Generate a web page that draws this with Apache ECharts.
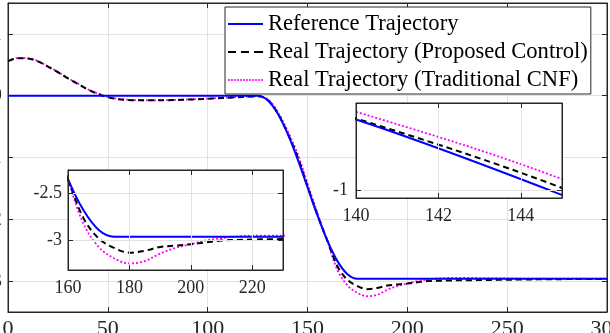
<!DOCTYPE html>
<html>
<head>
<meta charset="utf-8">
<script src="https://cdn.jsdelivr.net/npm/echarts@6/dist/echarts.min.js"></script>
<style>
html,body{margin:0;padding:0;background:#fff;}
#chart{width:610px;height:333px;}
</style>
</head>
<body>
<div id="chart"></div>
<script>
// sample times
var timeSteps = [0,5,10,15,20,25,30,35,40,45,50,55,60,65,70,75,80,85,90,95,100,105,110,115,120,125,
  130,135,140,145,150,155,160,165,170,175,
  180,185,190,195,200,205,210,215,220,225,230,235,240,245,250,255,260,265,270,275,280,285,290,295,300];

var refTraj = [0,0,0,0,0,0,0,0,0,0,0,0,0,0,0,0,0,0,0,0,0,0,0,0,0,0,
  -0.072,-0.283,-0.610,-1.023,-1.48,-1.937,-2.350,-2.677,-2.888,-2.96,
  -2.96,-2.96,-2.96,-2.96,-2.96,-2.96,-2.96,-2.96,-2.96,-2.96,-2.96,-2.96,-2.96,-2.96,-2.96,-2.96,-2.96,-2.96,-2.96,-2.96,-2.96,-2.96,-2.96,-2.96,-2.96];

var proposedTraj = [0.56,0.605,0.60,0.555,0.47,0.38,0.28,0.19,0.10,0.03,-0.025,-0.055,-0.07,-0.075,-0.075,-0.074,-0.072,-0.068,-0.063,-0.056,-0.048,-0.04,-0.032,-0.024,-0.016,-0.01,
  -0.066,-0.28,-0.605,-0.985,-1.465,-1.93,-2.35,-2.76,-2.98,-3.08,
  -3.13,-3.11,-3.07,-3.055,-3.04,-3.02,-3.0,-2.995,-2.99,-2.988,-2.986,-2.984,-2.982,-2.98,-2.978,-2.976,-2.974,-2.972,-2.97,-2.969,-2.968,-2.967,-2.966,-2.965,-2.964];

var cnfTraj = [0.565,0.61,0.605,0.56,0.475,0.385,0.285,0.195,0.105,0.035,-0.02,-0.05,-0.065,-0.072,-0.074,-0.073,-0.07,-0.066,-0.061,-0.055,-0.047,-0.039,-0.031,-0.023,-0.015,-0.008,
  -0.055,-0.255,-0.568,-0.937,-1.42,-1.90,-2.36,-2.82,-3.07,-3.19,
  -3.245,-3.22,-3.14,-3.08,-3.04,-3.0,-2.975,-2.958,-2.95,-2.948,-2.948,-2.95,-2.952,-2.954,-2.956,-2.958,-2.959,-2.96,-2.96,-2.96,-2.96,-2.96,-2.96,-2.96,-2.96];

var legendNames = ['Reference Trajectory', 'Real Trajectory (Proposed Control)', 'Real Trajectory (Traditional CNF)'];

var mainXTicks = [0,50,100,150,200,250,300];
var mainYTicks = [-3,-2,-1,0,1];
var inset1XTicks = [160,180,200,220];
var inset1YTicks = [-3,-2.5];
var inset2XTicks = [140,142,144];
var inset2YTicks = [-1];

var FONT = "'Liberation Serif', 'Times New Roman', serif";
var AXC = '#262626';
var GRIDC = '#e2e2e2';

function pairs(vals){
  var out = [];
  for(var i=0;i<timeSteps.length;i++){
    out.push([timeSteps[i], vals[i]]);
  }
  return out;
}

// small deep merge
function merge(target){
  for(var a=1;a<arguments.length;a++){
    var src = arguments[a];
    for(var k in src){
      var v = src[k];
      if(v && typeof v === 'object' && !Array.isArray(v)){
        target[k] = merge((target[k] && typeof target[k]==='object') ? target[k] : {}, v);
      }else{
        target[k] = v;
      }
    }
  }
  return target;
}

var xAxes = [];
var yAxes = [];

// box style axes: bottom/left with labels, top/right mirrored ticks only
function addBox(gi, xr, xt, yr, yt, fs, xm, ym, z){
  var common = {
    type:'value', gridIndex:gi, z:z,
    axisLine:{show:true, onZero:false, lineStyle:{color:AXC, width:1}},
    splitLine:{show:false}
  };
  xAxes.push(merge({}, common, {
    position:'bottom', min:xr[0], max:xr[1],
    axisTick:{inside:true, length:5, customValues:xt, lineStyle:{color:AXC}},
    axisLabel:{customValues:xt, margin:xm, fontFamily:FONT, fontSize:fs, color:AXC},
    splitLine:{show:true, lineStyle:{color:GRIDC, width:1}}
  }));
  xAxes.push(merge({}, common, {
    position:'top', min:xr[0], max:xr[1],
    axisTick:{inside:true, length:5, customValues:xt, lineStyle:{color:AXC}},
    axisLabel:{show:false}
  }));
  yAxes.push(merge({}, common, {
    position:'left', min:yr[0], max:yr[1],
    axisTick:{inside:true, length:5, customValues:yt, lineStyle:{color:AXC}},
    axisLabel:{customValues:yt, margin:ym, fontFamily:FONT, fontSize:fs, color:AXC},
    splitLine:{show:true, lineStyle:{color:GRIDC, width:1}}
  }));
  yAxes.push(merge({}, common, {
    position:'right', min:yr[0], max:yr[1],
    axisTick:{inside:true, length:5, customValues:yt, lineStyle:{color:AXC}},
    axisLabel:{show:false}
  }));
}

addBox(0, [0,300], mainXTicks, [-3.5,1.5], mainYTicks, 22, 6, 6, 1);
addBox(1, [160,230], inset1XTicks, [-3.315,-2.25], inset1YTicks, 18, 9, 6, 14);
addBox(2, [140,145], inset2XTicks, [-1.04,-0.52], inset2YTicks, 18, 9, 8, 14);

var seriesData = [];
function addLines(gi, z){
  var xi = gi*2, yi = gi*2;
  seriesData.push({
    name:legendNames[2], type:'line', xAxisIndex:xi, yAxisIndex:yi, data:pairs(cnfTraj),
    showSymbol:false, symbol:'none', smooth:0.35, z:z,
    lineStyle:{color:'#ff00ff', width:1.8, type:[2,2]}, itemStyle:{color:'#ff00ff'}
  });
  seriesData.push({
    name:legendNames[1], type:'line', xAxisIndex:xi, yAxisIndex:yi, data:pairs(proposedTraj),
    showSymbol:false, symbol:'none', smooth:0.35, z:z+1,
    lineStyle:{color:'#000000', width:2, type:[6,4]}, itemStyle:{color:'#000000'}
  });
  seriesData.push({
    name:legendNames[0], type:'line', xAxisIndex:xi, yAxisIndex:yi, data:pairs(refTraj),
    showSymbol:false, symbol:'none', smooth:0.35, z:z+2,
    lineStyle:{color:'#0000ff', width:2}, itemStyle:{color:'#0000ff'}
  });
}
addLines(0, 2);
addLines(1, 11);
addLines(2, 11);

// legend line samples as path icons (35 x 2)
var solidIcon = 'path://M0,0h35v2h-35z';
var dashIcon = 'path://M0,0h8v2h-8z M13,0h8v2h-8z M26,0h9v2h-9z';
var dotIcon = 'path://';
for(var d=0; d<35; d+=3){
  dotIcon += 'M' + d + ',0h1.6v2h-1.6z ';
}

var myChart = echarts.init(document.getElementById('chart'));
var gridBase = {show:true, backgroundColor:'#fff', borderColor:AXC, borderWidth:1, outerBoundsMode:'none', containLabel:false};
var option = {
  animation:false,
  backgroundColor:'#fff',
  grid:[
    merge({}, gridBase, {left:8, right:3, top:3, bottom:21, z:0}),
    merge({}, gridBase, {left:68, top:170, width:215, height:100, z:10}),
    merge({}, gridBase, {left:356, top:103, width:206, height:95, z:10})
  ],
  legend:{
    data:[
      {name:legendNames[0], icon:solidIcon},
      {name:legendNames[1], icon:dashIcon},
      {name:legendNames[2], icon:dotIcon}
    ],
    orient:'vertical', left:225, top:7,
    padding:[5,3,2,3], itemGap:4, itemWidth:35, itemHeight:2, itemTextGap:1,
    backgroundColor:'#fff', borderColor:AXC, borderWidth:1, z:20,
    textStyle:{fontFamily:FONT, fontSize:22.6, lineHeight:24, color:'#000'}
  },
  xAxis:xAxes,
  yAxis:yAxes,
  series:seriesData
};
myChart.setOption(option);
</script>
</body>
</html>
